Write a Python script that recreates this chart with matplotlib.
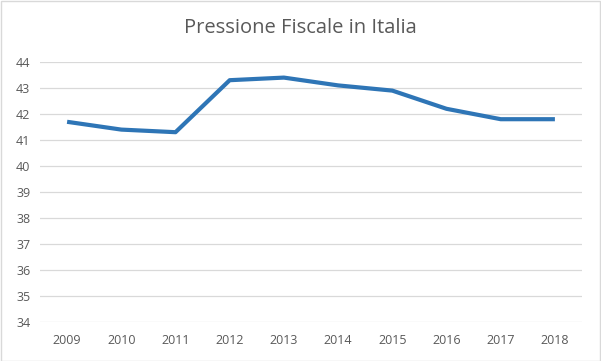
import matplotlib
matplotlib.use("Agg")
import matplotlib.pyplot as plt
from matplotlib.patches import Rectangle

years = ["2009", "2010", "2011", "2012", "2013", "2014", "2015", "2016", "2017", "2018"]
values = [41.7, 41.4, 41.3, 43.3, 43.4, 43.1, 42.9, 42.2, 41.8, 41.8]
yticks = [34, 35, 36, 37, 38, 39, 40, 41, 42, 43, 44]

plt.rcParams['font.family'] = ['Open Sans', 'DejaVu Sans']

W, H = 601, 361
fig = plt.figure(figsize=(W / 100, H / 100), dpi=100)
ax = fig.add_axes([40 / W, 1 - 322 / H, (582 - 40) / W, (322 - 62) / H])

x = list(range(len(years)))
ax.plot(x, values, color="#2E75B6", linewidth=3.0, solid_capstyle="butt", solid_joinstyle="round", zorder=3)

ax.set_xlim(-0.5, len(years) - 0.5)
ax.set_ylim(34, 44)
ax.set_yticks(yticks)
ax.set_yticklabels([str(t) for t in yticks])
ax.set_xticks(x)
ax.set_xticklabels(years)
ax.grid(axis="y", color="#D9D9D9", linewidth=0.9)
ax.set_axisbelow(True)
for s in ax.spines.values():
    s.set_visible(False)
ax.tick_params(axis="both", length=0, colors="#595959", labelsize=9)
ax.tick_params(axis="y", pad=7)
ax.tick_params(axis="x", pad=9)

fig.text(0.5, 1 - 28 / H, "Pressione Fiscale in Italia", ha="center", va="center",
         fontsize=14.5, color="#595959")

fig.patches.append(Rectangle((0.5 / W, 0.5 / H), 1 - 1.5 / W, 1 - 1.5 / H, transform=fig.transFigure,
                             fill=False, edgecolor="#D9D9D9", linewidth=1))

fig.savefig("out.png", dpi=100)
